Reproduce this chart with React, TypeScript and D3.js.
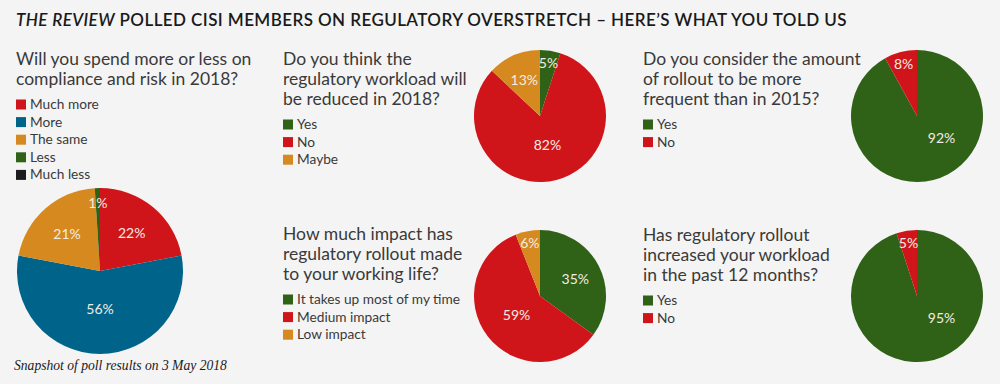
import React from 'react';
import * as d3 from 'd3';

// poll data
const titleItalic = 'THE REVIEW';
const titleRest = ' POLLED CISI MEMBERS ON REGULATORY OVERSTRETCH – HERE’S WHAT YOU TOLD US';
const footnote = 'Snapshot of poll results on 3 May 2018';

const q1Lines = ['Will you spend more or less on', 'compliance and risk in 2018?'];
const q1Categories = ['Much more', 'More', 'The same', 'Less', 'Much less'];
const q1Values = [22, 56, 21, 1, 0];

const q2Lines = ['Do you think the', 'regulatory workload will', 'be reduced in 2018?'];
const q2Categories = ['Yes', 'No', 'Maybe'];
const q2Values = [5, 82, 13];

const q3Lines = ['Do you consider the amount', 'of rollout to be more', 'frequent than in 2015?'];
const q3Categories = ['Yes', 'No'];
const q3Values = [92, 8];

const q4Lines = ['How much impact has', 'regulatory rollout made', 'to your working life?'];
const q4Categories = ['It takes up most of my time', 'Medium impact', 'Low impact'];
const q4Values = [35, 59, 6];

const q5Lines = ['Has regulatory rollout', 'increased your workload', 'in the past 12 months?'];
const q5Categories = ['Yes', 'No'];
const q5Values = [95, 5];

const RED = '#cf1519';
const BLUE = '#00648a';
const ORANGE = '#d5891e';
const GREEN = '#2f6116';
const BLACK = '#1c1c1c';

const q1Colours = [RED, BLUE, ORANGE, GREEN, BLACK];
const q2Colours = [GREEN, RED, ORANGE];
const q3Colours = [GREEN, RED];
const q4Colours = [GREEN, RED, ORANGE];
const q5Colours = [GREEN, RED];

const SANS = 'Lato, "Noto Sans", sans-serif';

interface Panel {
    lines: string[];
    categories: string[];
    values: number[];
    colours: string[];
    x: number;       // text column left
    y: number;       // first question baseline
    cx: number;
    cy: number;
    r: number;
}

const panels: Panel[] = [
    { lines: q1Lines, categories: q1Categories, values: q1Values, colours: q1Colours, x: 16, y: 65, cx: 100, cy: 271, r: 83 },
    { lines: q2Lines, categories: q2Categories, values: q2Values, colours: q2Colours, x: 283, y: 65, cx: 540, cy: 116, r: 66 },
    { lines: q3Lines, categories: q3Categories, values: q3Values, colours: q3Colours, x: 643, y: 65, cx: 917, cy: 116, r: 66 },
    { lines: q4Lines, categories: q4Categories, values: q4Values, colours: q4Colours, x: 283, y: 240, cx: 540, cy: 296, r: 66 },
    { lines: q5Lines, categories: q5Categories, values: q5Values, colours: q5Colours, x: 643, y: 241, cx: 917, cy: 296, r: 66 },
];

const pie = d3.pie<number>().sort(null).value((d) => d);

// where the percentage sits inside a slice
function labelPos(d: d3.PieArcDatum<number>, r: number): [number, number] {
    const frac = (d.endAngle - d.startAngle) / (2 * Math.PI);
    let a = (d.startAngle + d.endAngle) / 2;
    let k = 0.6;
    if (frac > 0.85) {
        a = 2.3;
        k = 0.5;
    } else if (frac > 0.5) {
        k = 0.45;
    } else if (frac < 0.1) {
        k = 0.82;
    }
    return [Math.sin(a) * r * k, -Math.cos(a) * r * k];
}

function PollPanel({ p }: { p: Panel }) {
    const arcs = pie(p.values);
    const arc = d3.arc<d3.PieArcDatum<number>>().innerRadius(0).outerRadius(p.r);
    const lineH = 20;
    const legendY = p.y + (p.lines.length - 1) * lineH + 24;
    const legendStep = d3.scaleLinear().domain([0, 1]).range([legendY, legendY + 17.6]);

    return (
        <g>
            <text fontFamily={SANS} fontSize={17.5} fill="#3a3a3a" fontWeight={400}>
                {p.lines.map((l, i) => (
                    <tspan key={i} x={p.x} y={p.y + i * lineH}>{l}</tspan>
                ))}
            </text>
            {p.categories.map((c, i) => (
                <g key={c} transform={`translate(${p.x},${legendStep(i)})`}>
                    <rect x={0} y={-9.5} width={10} height={10} fill={p.colours[i]} />
                    <text x={14} y={0} fontFamily={SANS} fontSize={13.7} fill="#3a3a3a">{c}</text>
                </g>
            ))}
            <g transform={`translate(${p.cx},${p.cy})`}>
                {arcs.map((d, i) => (
                    d.value > 0 ? <path key={i} d={arc(d) || ''} fill={p.colours[i]} /> : null
                ))}
                {arcs.map((d, i) => {
                    if (d.value <= 0) return null;
                    const [lx, ly] = labelPos(d, p.r);
                    return (
                        <text key={'l' + i} x={lx} y={ly} textAnchor="middle" dominantBaseline="central"
                            fontFamily={SANS} fontSize={14} fill="#f3ece4">
                            {d.value}%
                        </text>
                    );
                })}
            </g>
        </g>
    );
}

export default function App() {
    const width = 1000;
    const height = 384;
    return (
        <svg width={width} height={height} style={{ position: 'absolute', left: 0, top: 0, display: 'block' }}>
            <rect width={width} height={height} fill="#f4f4f4" />
            <text x={16} y={26} fontFamily={SANS} fontSize={17} fontWeight={600} fill="#1a1a1a" letterSpacing={0.42}>
                <tspan fontStyle="italic">{titleItalic}</tspan>
                <tspan>{titleRest}</tspan>
            </text>
            {panels.map((p, i) => <PollPanel key={i} p={p} />)}
            <text x={14} y={370} fontFamily='"Liberation Serif", "DejaVu Serif", serif' fontStyle="italic"
                fontSize={13.6} fill="#1a1a1a">
                {footnote}
            </text>
        </svg>
    );
}
